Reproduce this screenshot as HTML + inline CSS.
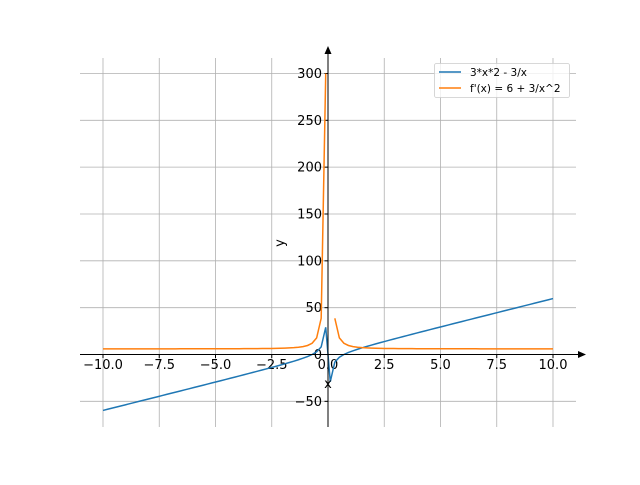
<!DOCTYPE html>
<html><head><meta charset="utf-8"><style>
html,body{margin:0;padding:0;background:#fff;}
svg text{font-family:"DejaVu Sans","Liberation Sans",sans-serif;font-size:13px;fill:#000;}
</style></head><body>
<svg id="s" width="640" height="480" xmlns="http://www.w3.org/2000/svg">
<g id="grid" stroke="#b0b0b0" stroke-width="0.8"></g>
<g id="ticks"></g>
<path id="blue" fill="none" stroke="#1f77b4" stroke-width="1.5"/>
<path id="or1" fill="none" stroke="#ff7f0e" stroke-width="1.5"/>
<path id="or2" fill="none" stroke="#ff7f0e" stroke-width="1.5"/>
<line x1="80" y1="354.5" x2="582" y2="354.5" stroke="#000" stroke-width="1"/>
<polygon points="586,354.5 578,351 578,358" fill="#000"/>
<line x1="328" y1="427" x2="328" y2="51" stroke="#000" stroke-width="1"/>
<polygon points="328,46 324.5,54 331.5,54" fill="#000"/>
<text x="328" y="388" text-anchor="middle">x</text>
<text transform="translate(284,243) rotate(-90)" text-anchor="middle">y</text>
<rect x="434.5" y="63.5" width="135" height="34" fill="#fff" fill-opacity="0.8" stroke="#ccc" stroke-width="0.8" rx="2"/>
<line x1="439" y1="72" x2="461" y2="72" stroke="#1f77b4" stroke-width="1.5"/>
<line x1="439" y1="88" x2="461" y2="88" stroke="#ff7f0e" stroke-width="1.5"/>
<text x="470" y="76" font-size="10.5" style="font-size:10.5px">3*x*2 - 3/x</text>
<text x="470" y="92" style="font-size:10.5px">f'(x) = 6 + 3/x^2</text>
</svg>
<script>
var X=function(x){return 328+22.5*x;},Y=function(y){return 354.5-0.9367*y;};
var g=document.getElementById('grid'),t=document.getElementById('ticks'),ns='http://www.w3.org/2000/svg';
function el(p,n,a,txt){var e=document.createElementNS(ns,n);for(var k in a)e.setAttribute(k,a[k]);if(txt!=null)e.textContent=txt;p.appendChild(e);}
function fm(s){return s.replace('-','\u2212');}
for(var v=-10;v<=10;v+=2.5){var px=X(v);el(g,'line',{x1:px,y1:58,x2:px,y2:427});el(t,'line',{x1:px,y1:354.5,x2:px,y2:358,stroke:'#000'});el(t,'text',{x:px,y:369,'text-anchor':'middle'},fm(v.toFixed(1)));}
for(var v=-50;v<=300;v+=50){var py=Y(v);el(g,'line',{x1:80,y1:py,x2:576,y2:py});el(t,'line',{x1:324.5,y1:py,x2:328,y2:py,stroke:'#000'});el(t,'text',{x:322,y:py+4.5,'text-anchor':'end'},fm(String(v)));}
var b='',o1='',o2='';
for(var i=0;i<100;i++){var x=-10+20*i/99;var f=6*x-3/x,d=6+3/(x*x);
b+=(i?'L':'M')+X(x).toFixed(2)+','+Y(f).toFixed(2);
if(i<50)o1+=(i?'L':'M')+X(x).toFixed(2)+','+Y(d).toFixed(2);
else if(i>50)o2+=(i>51?'L':'M')+X(x).toFixed(2)+','+Y(d).toFixed(2);}
document.getElementById('blue').setAttribute('d',b);
document.getElementById('or1').setAttribute('d',o1);
document.getElementById('or2').setAttribute('d',o2);
</script>
</body></html>
